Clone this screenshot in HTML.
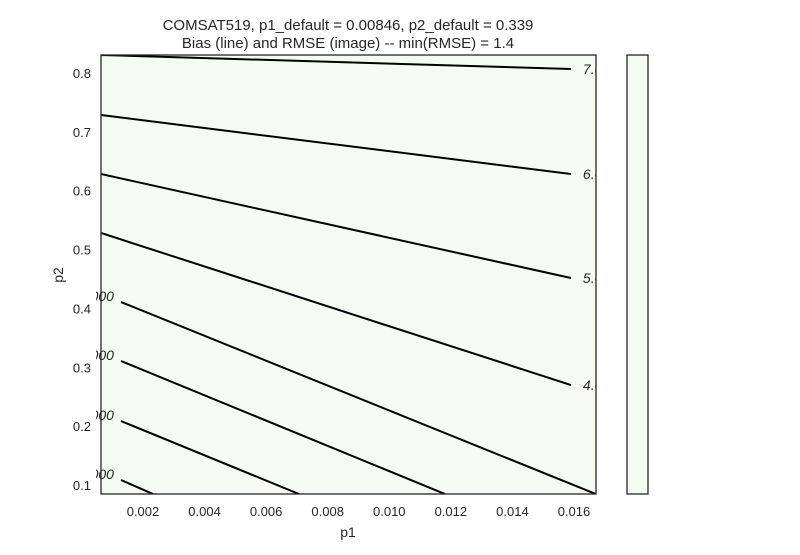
<!DOCTYPE html>
<html><head><meta charset="utf-8"><style>
body{margin:0;background:#fff;}
svg text{font-family:"Liberation Sans",sans-serif;fill:#262626;}
</style></head><body>
<svg width="800" height="550" viewBox="0 0 800 550">
<defs><clipPath id="pc"><rect x="101" y="55" width="495" height="439"/></clipPath>
<clipPath id="lc"><rect x="96" y="40" width="500" height="470"/></clipPath></defs>
<text x="348" y="30" font-size="15" text-anchor="middle">COMSAT519, p1_default = 0.00846, p2_default = 0.339</text>
<text x="348" y="48" font-size="15" text-anchor="middle">Bias (line) and RMSE (image) -- min(RMSE) = 1.4</text>
<rect x="101" y="55" width="495" height="439" fill="#f5faf2"/>
<g id="contours" clip-path="url(#pc)"></g>
<g id="labels" clip-path="url(#lc)"></g>
<rect x="101" y="55" width="495" height="439" fill="none" stroke="#262626" stroke-width="1.3"/>
<rect x="627" y="55" width="21" height="439" fill="#f5faf2" stroke="#262626" stroke-width="1.3"/>
<g id="xt"></g><g id="yt"></g>
<text x="348" y="537" font-size="14" text-anchor="middle">p1</text>
<text x="63" y="275" font-size="14" text-anchor="middle" transform="rotate(-90 63 275)">p2</text>
</svg>
<script>
const xTicks=[0.002,0.004,0.006,0.008,0.010,0.012,0.014,0.016];
const xTickLabels=["0.002","0.004","0.006","0.008","0.010","0.012","0.014","0.016"];
const yTicks=[0.1,0.2,0.3,0.4,0.5,0.6,0.7,0.8];
const yTickLabels=["0.1","0.2","0.3","0.4","0.5","0.6","0.7","0.8"];
const levels=["7.0","6.0","5.0","4.0","3.000","2.000","1.000","0.000"];
const p1Start=[0.000636,0.000636,0.000636,0.000636,0.001285,0.001285,0.001285,0.001285];
const p2Start=[0.8306,0.7286,0.6284,0.5282,0.4109,0.3107,0.2087,0.1085];
const p1End=[0.01590,0.01590,0.01590,0.01590,0.01671,0.01181,0.007067,0.002325];
const p2End=[0.8068,0.6284,0.4517,0.2699,0.0847,0.0847,0.0847,0.0847];
const labelSide=["right","right","right","right","left","left","left","left"];
const NS="http://www.w3.org/2000/svg";
const X=v=>143+(v-0.002)/0.002*61.57;
const Y=v=>73+(0.8-v)/0.1*58.86;
const cg=document.getElementById('contours'),lg=document.getElementById('labels');
levels.forEach((lv,i)=>{
  const l=document.createElementNS(NS,'line');
  
  
  l.setAttribute('x1',X(p1Start[i]));l.setAttribute('y1',Y(p2Start[i]));
  l.setAttribute('x2',X(p1End[i]));l.setAttribute('y2',Y(p2End[i]));
  l.setAttribute('stroke','#000');l.setAttribute('stroke-width','2');
  cg.appendChild(l);
  const t=document.createElementNS(NS,'text');
  
  
  t.setAttribute('font-size','14');t.setAttribute('font-style','italic');
  if(labelSide[i]==='right'){
    t.setAttribute('x',X(p1End[i])+12);t.setAttribute('y',Y(p2End[i])+5);
    t.textContent=lv;
  }else{
    t.setAttribute('x',X(p1Start[i])-7);t.setAttribute('y',Y(p2Start[i])-1);
    t.setAttribute('text-anchor','end');
    t.textContent=lv;
  }
  lg.appendChild(t);
});
const xt=document.getElementById('xt');
xTicks.forEach((v,i)=>{const t=document.createElementNS(NS,'text');


t.setAttribute('x',X(v));t.setAttribute('y',516);t.setAttribute('font-size','13');t.setAttribute('text-anchor','middle');t.textContent=xTickLabels[i];xt.appendChild(t);});
const yt=document.getElementById('yt');
yTicks.forEach((v,i)=>{const t=document.createElementNS(NS,'text');


t.setAttribute('x',91);t.setAttribute('y',Y(v)+5);t.setAttribute('font-size','13');t.setAttribute('text-anchor','end');t.textContent=yTickLabels[i];yt.appendChild(t);});
</script>
</body></html>
